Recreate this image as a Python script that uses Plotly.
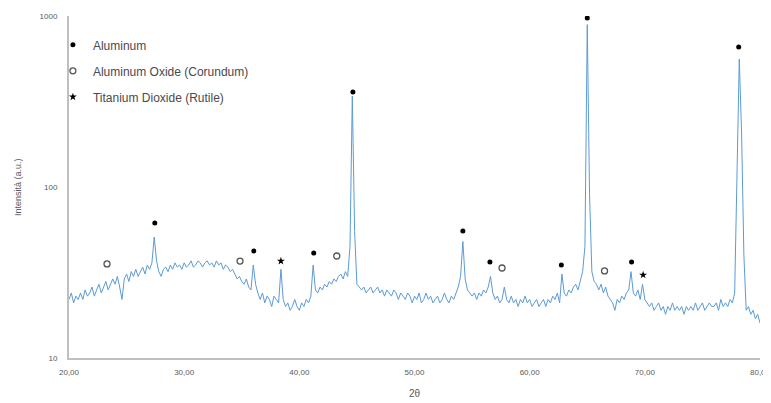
import numpy as np
import plotly.graph_objects as go

# 2-theta measurement grid (0.2 deg step)
two_theta = np.round(np.arange(20.0, 80.001, 0.2), 1)

# intensity (a.u.), 5 values per degree
intensity = [
    22, 24, 21, 23, 22,   # 20
    24, 22, 25, 23, 24,   # 21
    26, 23, 25, 27, 24,   # 22
    26, 28, 25, 27, 29,   # 23
    27, 30, 26, 22, 29,   # 24
    31, 28, 32, 30, 33,   # 25
    30, 32, 34, 31, 35,   # 26
    33, 36, 51, 37, 32,   # 27
    30, 33, 34, 32, 35,   # 28
    33, 36, 34, 35, 33,   # 29
    36, 34, 35, 37, 34,   # 30
    35, 37, 36, 34, 36,   # 31
    37, 35, 36, 34, 37,   # 32
    35, 36, 33, 35, 34,   # 33
    32, 33, 31, 29, 30,   # 34
    28, 27, 29, 26, 25,   # 35
    35, 27, 24, 22, 24,   # 36
    21, 23, 22, 20, 23,   # 37
    22, 21, 33, 22, 20,   # 38
    21, 19, 20, 22, 20,   # 39
    19, 21, 20, 22, 21,   # 40
    23, 35, 25, 24, 26,   # 41
    25, 27, 26, 28, 27,   # 42
    29, 28, 30, 31, 29,   # 43
    32, 30, 45, 340, 55,  # 44
    27, 26, 25, 26, 24,   # 45
    25, 26, 24, 25, 26,   # 46
    24, 25, 23, 25, 24,   # 47
    23, 25, 24, 22, 24,   # 48
    23, 22, 24, 23, 21,   # 49
    23, 22, 24, 21, 22,   # 50
    24, 22, 23, 21, 22,   # 51
    23, 21, 22, 24, 22,   # 52
    21, 23, 22, 24, 26,   # 53
    30, 48, 29, 25, 24,   # 54
    23, 24, 22, 24, 23,   # 55
    25, 24, 26, 30, 24,   # 56
    22, 23, 21, 22, 26,   # 57
    22, 21, 23, 21, 22,   # 58
    20, 22, 21, 23, 21,   # 59
    22, 20, 21, 22, 20,   # 60
    21, 22, 20, 22, 21,   # 61
    23, 22, 24, 21, 31,   # 62
    24, 23, 25, 24, 26,   # 63
    27, 25, 28, 32, 45,   # 64
    890, 90, 32, 28, 27,  # 65
    25, 27, 24, 26, 23,   # 66
    22, 21, 19, 22, 21,   # 67
    23, 22, 24, 25, 32,   # 68
    24, 23, 25, 22, 27,   # 69
    22, 21, 20, 21, 19,   # 70
    20, 21, 19, 20, 18,   # 71
    20, 19, 21, 19, 20,   # 72
    19, 20, 18, 20, 19,   # 73
    20, 19, 21, 19, 20,   # 74
    21, 19, 20, 21, 20,   # 75
    20, 21, 19, 22, 20,   # 76
    21, 20, 22, 21, 24,   # 77
    120, 560, 210, 40, 19,  # 78
    20, 18, 19, 17, 18,   # 79
    16,                   # 80
]

# phase markers (position, marker height)
al_x = [27.45, 36.05, 41.25, 44.65, 54.2, 56.55, 62.75, 65.0, 68.85, 78.15]
al_y = [61.5, 42.3, 41.1, 359, 55.3, 36.4, 35.0, 973, 36.4, 659]
ox_x = [23.3, 34.85, 43.25, 57.6, 66.5]
ox_y = [35.5, 36.9, 39.5, 33.6, 32.3]
ti_x = [38.4, 69.85]
ti_y = [36.9, 30.6]

x_tickvals = [20, 30, 40, 50, 60, 70, 80]
x_ticktext = ["20,00", "30,00", "40,00", "50,00", "60,00", "70,00", "80,00"]
y_tickvals = [10, 100, 1000]
y_ticktext = ["10", "100", "1000"]

grey = "#595959"

fig = go.Figure()
fig.add_trace(go.Scatter(
    x=two_theta, y=intensity, mode="lines",
    line=dict(color="#5b9bd5", width=1), showlegend=False, hoverinfo="skip"))
fig.add_trace(go.Scatter(
    x=al_x, y=al_y, mode="markers", name="Aluminum", legendgroup="a",
    marker=dict(symbol="circle", size=5, color="black")))
fig.add_trace(go.Scatter(
    x=ox_x, y=ox_y, mode="markers", name="Aluminum Oxide (Corundum)", legendgroup="b",
    marker=dict(symbol="circle-open", size=6, color="#555555", line=dict(width=1.3))))
fig.add_trace(go.Scatter(
    x=ti_x, y=ti_y, mode="markers", name="Titanium Dioxide (Rutile)", legendgroup="c",
    marker=dict(symbol="star", size=6, color="black")))

fig.update_layout(
    width=771, height=403,
    margin=dict(l=61, r=19, t=8, b=53),
    paper_bgcolor="white", plot_bgcolor="white",
    font=dict(family="Liberation Sans, Arial, sans-serif", size=8, color=grey),
    legend=dict(x=-0.0233, y=0.958, xanchor="left", yanchor="top",
                bgcolor="rgba(0,0,0,0)", font=dict(size=12, color="#4a4a4a"),
                tracegroupgap=7, traceorder="grouped", itemwidth=30),
    annotations=[dict(text="Intensità (a.u.)", xref="paper", yref="paper",
                      x=-0.0738, y=0.5, xanchor="center", yanchor="middle",
                      textangle=-90, showarrow=False,
                      font=dict(size=9, color=grey))],
)
fig.update_xaxes(
    range=[20, 80], tickvals=x_tickvals, ticktext=x_ticktext, automargin=False,
    showgrid=False, zeroline=False, showline=True, linecolor="#bfbfbf", linewidth=2,
    ticks="", ticklabelstandoff=5, tickfont=dict(size=8, color=grey),
    title=dict(text="2θ", font=dict(size=10, color=grey), standoff=14))
fig.update_yaxes(
    type="log", range=[1, 3], tickvals=y_tickvals, ticktext=y_ticktext, automargin=False,
    showgrid=False, zeroline=False, showline=True, linecolor="#bfbfbf", linewidth=2,
    ticks="", ticklabelstandoff=8, tickfont=dict(size=8, color=grey))

fig.write_html("out.html")
